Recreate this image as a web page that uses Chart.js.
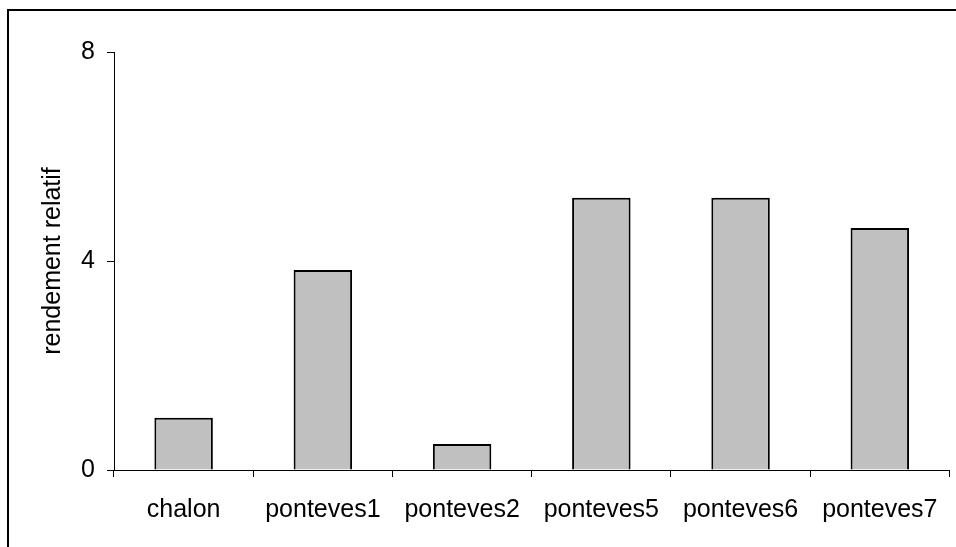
<!DOCTYPE html>
<html>
<head>
<meta charset="utf-8">
<script src="https://cdn.jsdelivr.net/npm/chart.js@4/dist/chart.umd.min.js"></script>
<style>
    html, body { margin: 0; padding: 0; background: #fff; }
    #wrap { width: 956px; height: 547px; position: relative; }
</style>
</head>
<body>
<div id="wrap"><canvas id="barChart"></canvas></div>
<script>
// données
const sites = ['chalon', 'ponteves1', 'ponteves2', 'ponteves5', 'ponteves6', 'ponteves7'];
const rendement = [1.0, 3.83, 0.5, 5.21, 5.21, 4.63];
const yTicks = [0, 4, 8];

// cadre extérieur (coupé à droite et en bas comme dans l'original)
const framePlugin = {
    id: 'frame',
    afterDraw(chart) {
        const ctx = chart.ctx;
        ctx.save();
        ctx.strokeStyle = '#000';
        ctx.lineWidth = 2;
        ctx.strokeRect(8, 10, 1000, 1000);
        ctx.restore();
    }
};

const ctx = document.getElementById('barChart').getContext('2d');
new Chart(ctx, {
    type: 'bar',
    data: {
        labels: sites,
        datasets: [{
            data: rendement,
            backgroundColor: '#c0c0c0',
            borderColor: '#000',
            borderWidth: 2,
            categoryPercentage: 1,
            barPercentage: 0.42,
        }],
    },
    options: {
        responsive: true,
        maintainAspectRatio: false,
        animation: false,
        layout: {
            padding: { top: 52, right: 6, left: 0, bottom: 0 },
        },
        plugins: {
            legend: { display: false },
            tooltip: { enabled: false },
        },
        scales: {
            x: {
                grid: {
                    display: true,
                    offset: true,
                    drawOnChartArea: false,
                    tickLength: 7,
                    color: '#000',
                },
                border: { display: true, color: '#000', width: 1 },
                ticks: {
                    color: '#000',
                    padding: 18,
                    maxRotation: 0,
                    autoSkip: false,
                    font: { family: 'Liberation Sans, Arial, sans-serif', size: 25 },
                },
                afterFit(scale) { scale.height = 547 - 470; },
            },
            y: {
                min: 0,
                max: 8,
                afterBuildTicks(scale) {
                    scale.ticks = yTicks.map((v) => ({ value: v }));
                },
                grid: {
                    display: true,
                    drawOnChartArea: false,
                    tickLength: 7,
                    color: '#000',
                },
                border: { display: true, color: '#000', width: 1 },
                ticks: {
                    color: '#000',
                    padding: 12,
                    font: { family: 'Liberation Sans, Arial, sans-serif', size: 25 },
                },
                title: {
                    display: true,
                    text: 'rendement relatif',
                    color: '#000',
                    padding: { top: 38, bottom: 0 },
                    font: { family: 'Liberation Sans, Arial, sans-serif', size: 25 },
                },
                afterFit(scale) { scale.width = 114; },
            },
        },
    },
    plugins: [framePlugin],
});
</script>
</body>
</html>
